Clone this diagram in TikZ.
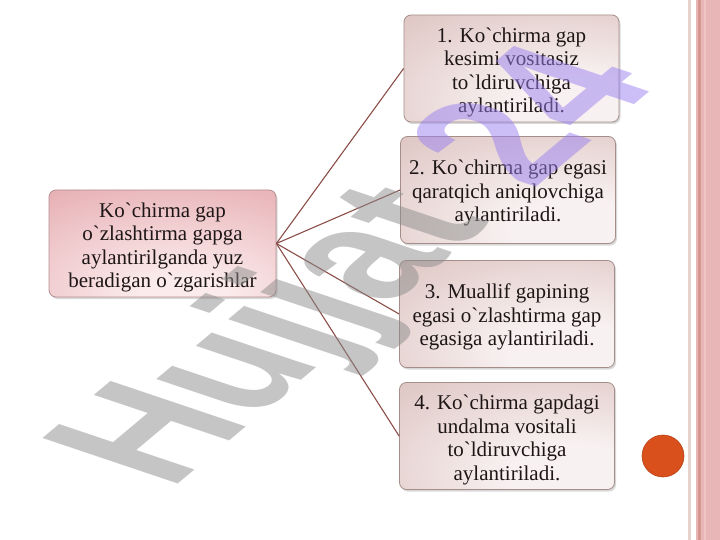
\documentclass[tikz,border=0pt]{standalone}
\usepackage{fontspec}
\setmainfont{Liberation Serif}
\newfontfamily\wmfont{Liberation Sans}
\usetikzlibrary{shadows}
\definecolor{rin}{HTML}{F8F1F1}
\definecolor{rout}{HTML}{D5B7B3}
\definecolor{lin}{HTML}{FBEBEC}
\definecolor{lout}{HTML}{E3A5AA}
\definecolor{rborder}{HTML}{A58E8A}
\definecolor{lborder}{HTML}{B58E91}
\definecolor{linkc}{HTML}{8B4E48}
\definecolor{textc}{HTML}{1E1616}
\definecolor{wmgray}{HTML}{8C8C8C}
\definecolor{wmlav}{HTML}{9A80F0}
\definecolor{stripeA}{HTML}{E8D2CC}
\definecolor{stripeB}{HTML}{E8B6B6}
\definecolor{stripeC}{HTML}{D69690}
\definecolor{stripeD}{HTML}{EFC6C4}
\definecolor{dotc}{HTML}{D9501C}
\definecolor{dotb}{HTML}{B84418}
\pgfdeclareradialshading{rshade}{\pgfpoint{18bp}{-22bp}}{color(0bp)=(rin); color(15bp)=(rin); color(62bp)=(rout); color(100bp)=(rout)}
\pgfdeclareradialshading{lshade}{\pgfpoint{5bp}{-28bp}}{color(0bp)=(lin); color(10bp)=(lin); color(55bp)=(lout); color(100bp)=(lout)}
\newcommand{\grv}{\textasciigrave}
\tikzset{
  basebox/.style={rounded corners=7pt, line width=0.8pt, inner sep=0pt,
    minimum height=107pt,
    drop shadow={shadow xshift=1.5pt, shadow yshift=-2pt, opacity=0.3}},
  lbox/.style={basebox, draw=lborder, shading=lshade, minimum width=227pt},
  rbox/.style={basebox, draw=rborder, shading=rshade, minimum width=215pt},
  boxtext/.style={align=center, font=\fontsize{21}{23.5}\selectfont, text=textc, inner sep=0pt},
  link/.style={draw=linkc, line width=1.1pt},
  wmark/.style={cm={1.157,0.971,-1.967,0.662,(0,0)}, transform shape, anchor=base west,
    inner sep=0pt, text opacity=0.5, font=\wmfont\bfseries\fontsize{100}{100}\selectfont},
}
\begin{document}
\begin{tikzpicture}[x=1pt, y=-1pt]
\useasboundingbox (0,0) rectangle (720,540);
\fill[white] (0,0) rectangle (720,540);
% right slide decoration
\fill[stripeA] (688,0) rectangle (691,540);
\fill[stripeB] (696,0) rectangle (720,540);
\fill[stripeC] (698,0) rectangle (701,540);
\fill[stripeD] (704,0) rectangle (706,540);
\node[circle, fill=dotc, draw=dotb, line width=0.6pt, minimum size=42pt, inner sep=0pt] (dot) at (663,456) {};
% boxes
\node[lbox] (src) at (162.5,243.5) {};
\node[rbox] (b1) at (511.5,68.5) {};
\node[rbox] (b2) at (508,190) {};
\node[rbox] (b3) at (507,314) {};
\node[rbox] (b4) at (507,436) {};
% texts
\node[boxtext] (srct) at ([yshift=-4pt]src.center) {Ko\grv chirma gap\\o\grv zlashtirma gapga\\aylantirilganda yuz\\beradigan o\grv zgarishlar};
\node[boxtext] (t1) at ([yshift=-4pt]b1.center) {1. Ko\grv chirma gap\\kesimi vositasiz\\to\grv ldiruvchiga\\aylantiriladi.};
\node[boxtext] (t2) at ([yshift=-3pt]b2.center) {2. Ko\grv chirma gap egasi\\qaratqich aniqlovchiga\\aylantiriladi.};
\node[boxtext] (t3) at ([yshift=-3pt]b3.center) {3. Muallif gapining\\egasi o\grv zlashtirma gap\\egasiga aylantiriladi.};
\node[boxtext] (t4) at ([yshift=-4pt]b4.center) {4. Ko\grv chirma gapdagi\\undalma vositali\\to\grv ldiruvchiga\\aylantiriladi.};
% connectors
\draw[link] (src.east) -- (b1.west);
\draw[link] (src.east) -- (b2.west);
\draw[link] (src.east) -- (b3.west);
\draw[link] (src.east) -- (b4.west);
% watermark
\begin{scope}[shift={(170,491)}]
\node[wmark, text=wmgray] (wm) at (0,0) {Hujjat};
\node[wmark, text=wmlav] (wm2) at ([shift={(40,-30)}]wm.base east) {24};
\end{scope}
\end{tikzpicture}
\end{document}
